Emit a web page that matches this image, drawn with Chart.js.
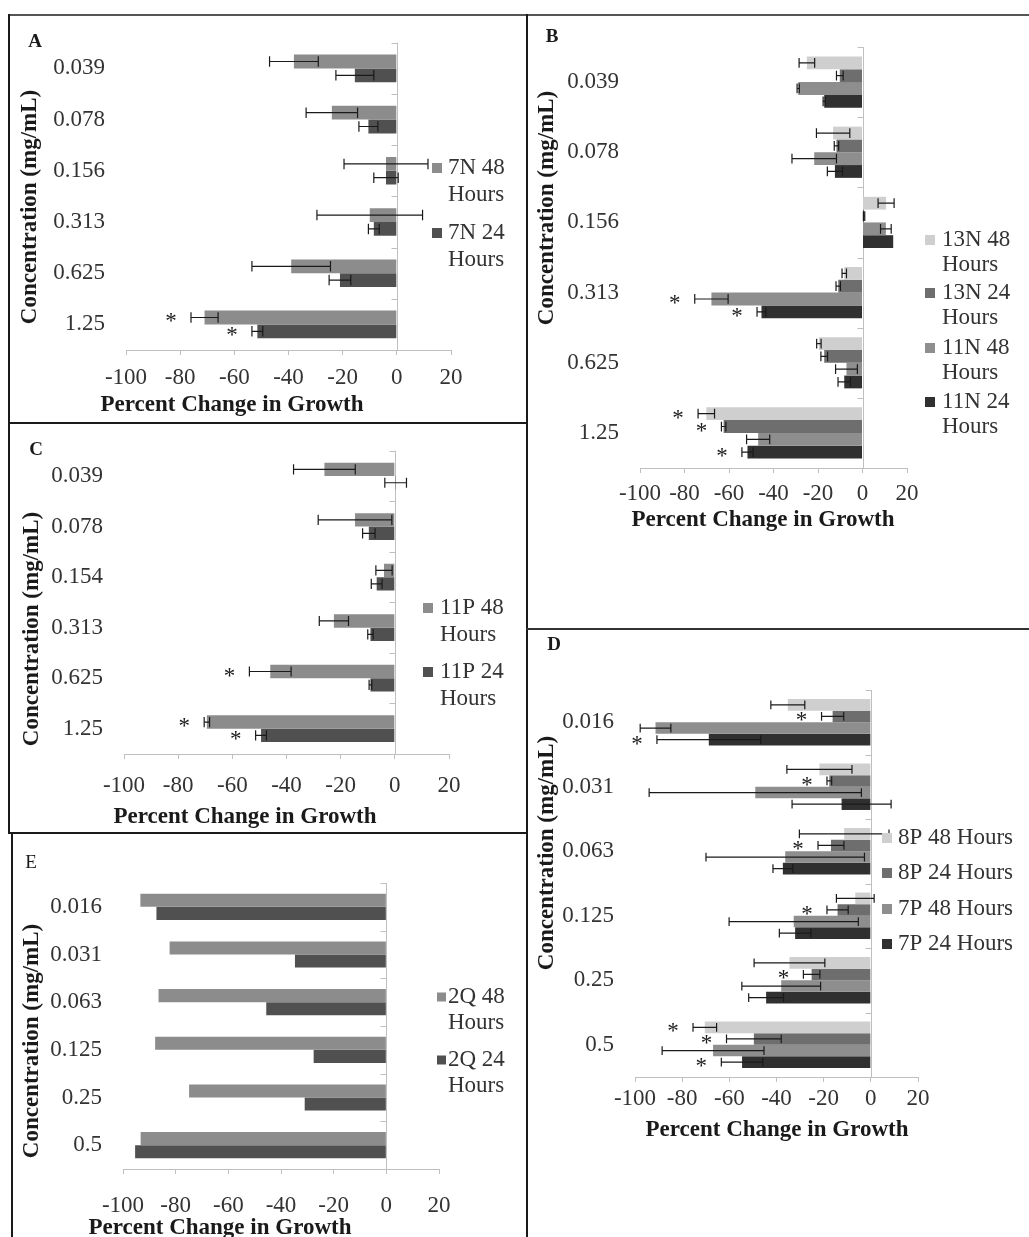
<!DOCTYPE html>
<html>
<head>
<meta charset="utf-8">
<script src="https://cdn.jsdelivr.net/npm/chart.js@4.4.0/dist/chart.umd.min.js"></script>
<style>
  body { margin: 0; background: #fff; }
  #page { position: relative; width: 1029px; height: 1237px; overflow: hidden; background: #fff; }
  .box { position: absolute; }
  .line { position: absolute; background: #1a1a1a; }
</style>
</head>
<body>
<div id="page">
  <div class="box" style="left:10px;top:16px;width:516px;height:406px"><canvas id="chartA"></canvas></div>
  <div class="box" style="left:528px;top:16px;width:501px;height:612px"><canvas id="chartB"></canvas></div>
  <div class="box" style="left:10px;top:424px;width:516px;height:408px"><canvas id="chartC"></canvas></div>
  <div class="box" style="left:528px;top:630px;width:501px;height:607px"><canvas id="chartD"></canvas></div>
  <div class="box" style="left:13px;top:834px;width:513px;height:403px"><canvas id="chartE"></canvas></div>

  <!-- panel frames -->
  <div class="line" style="left:9px;top:14px;width:1020px;height:2px;background:#555"></div>
  <div class="line" style="left:8px;top:14px;width:2px;height:820px"></div>
  <div class="line" style="left:526px;top:14px;width:2px;height:1223px"></div>
  <div class="line" style="left:8px;top:422px;width:520px;height:2px"></div>
  <div class="line" style="left:526px;top:628px;width:503px;height:2px;background:#333"></div>
  <div class="line" style="left:8px;top:832px;width:520px;height:2px"></div>
  <div class="line" style="left:11px;top:832px;width:2px;height:405px"></div>
</div>
<script>
// ---- data ----
const concA = ['0.039', '0.078', '0.156', '0.313', '0.625', '1.25'];
const namesA = ['7N 48 Hours', '7N 24 Hours'];
const a48 = [-38, -24, -4, -10, -39, -71];
const a48Err = [9, 9.5, 15.5, 19.5, 14.5, 5];
const a48Star = [0, 0, 0, 0, 0, 1];
const a24 = [-15.5, -10.5, -4, -8.5, -21, -51.5];
const a24Err = [7, 3.5, 4.5, 2, 4, 2];
const a24Star = [0, 0, 0, 0, 0, 1];

const concB = ['0.039', '0.078', '0.156', '0.313', '0.625', '1.25'];
const namesB = ['13N 48 Hours', '13N 24 Hours', '11N 48 Hours', '11N 24 Hours'];
const b13n48 = [-25, -13.2, 10.6, -8.2, -19.6, -70.2];
const b13n48Err = [3.5, 7.5, 3.6, 1, 1, 3.7];
const b13n48Star = [0, 0, 0, 0, 0, 1];
const b13n24 = [-10.2, -11.7, 0.7, -10.9, -17.2, -62.4];
const b13n24Err = [1.5, 1, 0.3, 1, 1.5, 1];
const b13n24Star = [0, 0, 0, 0, 0, 1];
const b11n48 = [-28.9, -21.7, 10.5, -67.9, -7.2, -46.9];
const b11n48Err = [0.5, 10, 2.4, 7.5, 4.9, 5.2];
const b11n48Star = [0, 0, 0, 1, 0, 0];
const b11n24 = [-17.2, -12.4, 13.8, -45.4, -8.2, -51.7];
const b11n24Err = [0.5, 3.4, 0, 2, 2.8, 2.5];
const b11n24Star = [0, 0, 0, 1, 0, 1];

const concC = ['0.039', '0.078', '0.154', '0.313', '0.625', '1.25'];
const namesC = ['11P 48 Hours', '11P 24 Hours'];
const c48 = [-26, -14.7, -4, -22.5, -46, -69.4];
const c48Err = [11.4, 13.6, 3, 5.4, 7.7, 1];
const c48Star = [0, 0, 0, 0, 1, 1];
const c24 = [0.3, -9.6, -6.7, -9, -9, -49.4];
const c24Err = [4, 2.3, 2, 1, 0.5, 2];
const c24Star = [0, 0, 0, 0, 0, 1];

const concD = ['0.016', '0.031', '0.063', '0.125', '0.25', '0.5'];
const namesD = ['8P 48 Hours', '8P 24 Hours', '7P 48 Hours', '7P 24 Hours'];
const d8p48 = [-35.2, -21.8, -11.3, -6.6, -34.5, -70.4];
const d8p48Err = [7.2, 13.8, 19, 8, 15, 5];
const d8p48Star = [0, 0, 0, 0, 0, 1];
const d8p24 = [-16.2, -17.6, -16.9, -14.1, -25.1, -49.6];
const d8p24Err = [4.7, 1, 5.5, 4.5, 3.5, 11.6];
const d8p24Star = [1, 1, 1, 1, 1, 1];
const d7p48 = [-91.3, -49, -36.3, -32.7, -38, -66.9];
const d7p48Err = [6.5, 45, 33.6, 27.4, 16.7, 21.6];
const d7p48Star = [0, 0, 0, 0, 0, 0];
const d7p24 = [-68.7, -12.4, -37.3, -32.1, -44.4, -54.6];
const d7p24Err = [22, 21, 4.2, 6.7, 7.4, 8.8];
const d7p24Star = [1, 0, 0, 0, 0, 1];

const concE = ['0.016', '0.031', '0.063', '0.125', '0.25', '0.5'];
const namesE = ['2Q 48 Hours', '2Q 24 Hours'];
const e48 = [-93.4, -82.3, -86.5, -87.8, -74.9, -93.3];
const e24 = [-87.3, -34.7, -45.6, -27.6, -31, -95.4];

const xTicks = [-100, -80, -60, -40, -20, 0, 20];

// ---- look ----
const FONT = 'Liberation Serif';
const AXIS_GREY = '#bfbfbf';
const GREY_MID = '#8c8c8c', GREY_DARK = '#505050';
const GREY_LIGHT = '#cfcfcf', GREY_24 = '#6e6e6e', GREY_48 = '#8e8e8e', GREY_BLACK = '#303030';

Chart.defaults.font.family = FONT;

// zero line with little category ticks (Excel puts the value axis at 0)
const zeroAxisPlugin = {
    id: 'zeroAxis',
    beforeDatasetsDraw(chart) {
        const { ctx, chartArea: a, scales: { x } } = chart;
        const x0 = Math.round(x.getPixelForValue(0)) + 0.5;
        const n = chart.data.labels.length;
        const step = (a.bottom - a.top) / n;
        ctx.save();
        ctx.strokeStyle = AXIS_GREY;
        ctx.lineWidth = 1;
        ctx.beginPath();
        ctx.moveTo(x0, a.top);
        ctx.lineTo(x0, a.bottom);
        for (let i = 0; i < n; i++) {
            const yy = Math.round(a.top + i * step) + 0.5;
            ctx.moveTo(x0 - 6, yy);
            ctx.lineTo(x0, yy);
        }
        ctx.stroke();
        ctx.restore();
    }
};

// error bars + significance stars
const errorBarPlugin = {
    id: 'errorBars',
    afterDatasetsDraw(chart) {
        const ctx = chart.ctx;
        const x = chart.scales.x;
        chart.data.datasets.forEach((ds, di) => {
            const meta = chart.getDatasetMeta(di);
            meta.data.forEach((bar, i) => {
                const v = ds.data[i];
                const e = ds.err ? ds.err[i] : 0;
                if (e > 0) {
                    const x1 = x.getPixelForValue(v - e);
                    const x2 = x.getPixelForValue(v + e);
                    const cap = bar.height * 0.38;
                    ctx.save();
                    ctx.strokeStyle = '#1a1a1a';
                    ctx.lineWidth = 1.2;
                    ctx.beginPath();
                    ctx.moveTo(x1, bar.y); ctx.lineTo(x2, bar.y);
                    ctx.moveTo(x1, bar.y - cap); ctx.lineTo(x1, bar.y + cap);
                    ctx.moveTo(x2, bar.y - cap); ctx.lineTo(x2, bar.y + cap);
                    ctx.stroke();
                    ctx.restore();
                }
                if (ds.star && ds.star[i]) {
                    const xs = x.getPixelForValue(v - e) - 20;
                    ctx.save();
                    ctx.fillStyle = '#1a1a1a';
                    ctx.font = '23px ' + FONT;
                    ctx.textAlign = 'center';
                    ctx.textBaseline = 'alphabetic';
                    ctx.fillText('*', xs, bar.y + 11);
                    ctx.restore();
                }
            });
        });
    }
};

// panel letter, axis titles and the legend
const panelTextPlugin = {
    id: 'panelText',
    afterDraw(chart, args, opts) {
        const ctx = chart.ctx;
        const ox = opts.box.x, oy = opts.box.y;
        ctx.save();
        ctx.fillStyle = '#1a1a1a';
        ctx.textBaseline = 'middle';

        const L = opts.letter;
        ctx.font = (L.bold ? 'bold ' : '') + '19px ' + FONT;
        ctx.textAlign = 'center';
        ctx.fillText(L.text, L.x - ox, L.y - oy);

        ctx.font = 'bold 23px ' + FONT;
        ctx.fillText('Percent Change in Growth', opts.xTitle.x - ox, opts.xTitle.y - oy);

        ctx.save();
        ctx.translate(opts.yTitle.x - ox, opts.yTitle.y - oy);
        ctx.rotate(-Math.PI / 2);
        ctx.fillText('Concentration (mg/mL)', 0, 0);
        ctx.restore();

        const lg = opts.legend;
        ctx.font = '23px ' + FONT;
        ctx.textAlign = 'left';
        chart.data.datasets.forEach((ds, i) => {
            const ry = lg.rows[i] - oy;
            ctx.fillStyle = ds.backgroundColor;
            ctx.fillRect(lg.sq - ox, ry - lg.size / 2, lg.size, lg.size);
            ctx.fillStyle = '#333';
            if (lg.wrap) {
                const words = ds.label.split(' ');
                ctx.fillText(words.slice(0, -1).join(' '), lg.tx - ox, ry);
                ctx.fillText(words[words.length - 1], lg.tx - ox, ry + lg.gap);
            } else {
                ctx.fillText(ds.label, lg.tx - ox, ry);
            }
        });
        ctx.restore();
    }
};

function makePanel(id, labels, sets, lay) {
    const box = lay.box, area = lay.area;
    return new Chart(document.getElementById(id), {
        type: 'bar',
        data: {
            labels: labels,
            datasets: sets.map(s => ({
                label: s.label,
                data: s.data,
                err: s.err,
                star: s.star,
                backgroundColor: s.color,
                borderWidth: 0,
                categoryPercentage: lay.catPct,
                barPercentage: 1.0
            }))
        },
        options: {
            indexAxis: 'y',
            responsive: true,
            maintainAspectRatio: false,
            animation: false,
            layout: { padding: { top: area.t - box.y, right: box.x + box.w - area.r, left: 0, bottom: 0 } },
            scales: {
                x: {
                    min: xTicks[0],
                    max: xTicks[xTicks.length - 1],
                    afterBuildTicks: s => { s.ticks = xTicks.map(v => ({ value: v })); },
                    ticks: {
                        padding: lay.xPad, color: '#333', font: { family: FONT, size: 23 },
                        maxRotation: 0, minRotation: 0, autoSkip: false
                    },
                    grid: { drawOnChartArea: false, tickLength: 5, color: AXIS_GREY },
                    border: { color: AXIS_GREY },
                    afterFit: s => { s.height = box.y + box.h - area.b; }
                },
                y: {
                    ticks: { padding: 13, color: '#333', font: { family: FONT, size: 23 } },
                    grid: { display: false },
                    border: { display: false },
                    afterFit: s => { s.width = area.l - box.x; }
                }
            },
            plugins: {
                legend: { display: false },
                tooltip: { enabled: false },
                panelText: lay
            }
        },
        plugins: [zeroAxisPlugin, errorBarPlugin, panelTextPlugin]
    });
}

makePanel('chartA', concA, [
    { label: namesA[0], data: a48, err: a48Err, star: a48Star, color: GREY_MID },
    { label: namesA[1], data: a24, err: a24Err, star: a24Star, color: GREY_DARK }
], {
    box: { x: 10, y: 16, w: 516, h: 406 }, area: { l: 126, t: 38, r: 451, b: 350 },
    catPct: 0.54, xPad: 9,
    letter: { text: 'A', x: 35, y: 42, bold: true },
    yTitle: { x: 30, y: 207 }, xTitle: { x: 232, y: 405 },
    legend: { sq: 432, tx: 448, size: 10, rows: [168, 233], wrap: true, gap: 27 }
});

makePanel('chartB', concB, [
    { label: namesB[0], data: b13n48, err: b13n48Err, star: b13n48Star, color: GREY_LIGHT },
    { label: namesB[1], data: b13n24, err: b13n24Err, star: b13n24Star, color: GREY_24 },
    { label: namesB[2], data: b11n48, err: b11n48Err, star: b11n48Star, color: GREY_48 },
    { label: namesB[3], data: b11n24, err: b11n24Err, star: b11n24Star, color: GREY_BLACK }
], {
    box: { x: 528, y: 16, w: 501, h: 612 }, area: { l: 640, t: 47, r: 907, b: 468 },
    catPct: 0.73, xPad: 7,
    letter: { text: 'B', x: 552, y: 37, bold: true },
    yTitle: { x: 547, y: 208 }, xTitle: { x: 763, y: 520 },
    legend: { sq: 925, tx: 942, size: 10, rows: [240, 293, 348, 402], wrap: true, gap: 25 }
});

makePanel('chartC', concC, [
    { label: namesC[0], data: c48, err: c48Err, star: c48Star, color: GREY_MID },
    { label: namesC[1], data: c24, err: c24Err, star: c24Star, color: GREY_DARK }
], {
    box: { x: 10, y: 424, w: 516, h: 408 }, area: { l: 124, t: 447, r: 449, b: 754 },
    catPct: 0.53, xPad: 13,
    letter: { text: 'C', x: 36, y: 450, bold: true },
    yTitle: { x: 32, y: 629 }, xTitle: { x: 245, y: 817 },
    legend: { sq: 423, tx: 440, size: 10, rows: [608, 672], wrap: true, gap: 27 }
});

makePanel('chartD', concD, [
    { label: namesD[0], data: d8p48, err: d8p48Err, star: d8p48Star, color: GREY_LIGHT },
    { label: namesD[1], data: d8p24, err: d8p24Err, star: d8p24Star, color: GREY_24 },
    { label: namesD[2], data: d7p48, err: d7p48Err, star: d7p48Star, color: GREY_48 },
    { label: namesD[3], data: d7p24, err: d7p24Err, star: d7p24Star, color: GREY_BLACK }
], {
    box: { x: 528, y: 630, w: 501, h: 607 }, area: { l: 635, t: 690, r: 918, b: 1077 },
    catPct: 0.72, xPad: 3,
    letter: { text: 'D', x: 554, y: 645, bold: true },
    yTitle: { x: 547, y: 853 }, xTitle: { x: 777, y: 1130 },
    legend: { sq: 882, tx: 898, size: 10, rows: [838, 873, 909, 944], wrap: false, gap: 0 }
});

makePanel('chartE', concE, [
    { label: namesE[0], data: e48, color: GREY_MID },
    { label: namesE[1], data: e24, color: GREY_DARK }
], {
    box: { x: 13, y: 834, w: 513, h: 403 }, area: { l: 123, t: 883, r: 439, b: 1169 },
    catPct: 0.55, xPad: 18,
    letter: { text: 'E', x: 31, y: 863, bold: false },
    yTitle: { x: 32, y: 1041 }, xTitle: { x: 220, y: 1228 },
    legend: { sq: 437, tx: 448, size: 9, rows: [997, 1060], wrap: true, gap: 26 }
});
</script>
</body>
</html>
